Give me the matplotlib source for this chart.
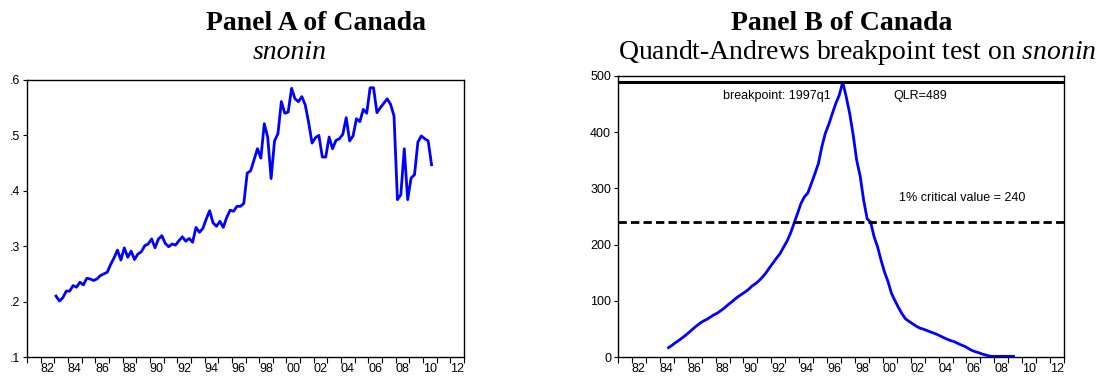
import numpy as np
import matplotlib
matplotlib.use("Agg")
import matplotlib.pyplot as plt
from matplotlib.ticker import FixedLocator, NullFormatter, FuncFormatter

plt.rcParams['font.family'] = ['Liberation Sans', 'DejaVu Sans']
plt.rcParams['mathtext.fontset'] = 'custom'
plt.rcParams['mathtext.rm'] = 'Liberation Serif'
plt.rcParams['mathtext.it'] = 'Liberation Serif:italic'

# snonin, quarterly 1983q1 - 2010q3
snonin_start = 1983
snonin = [0.210, 0.201, 0.207, 0.219, 0.219, 0.229, 0.226, 0.235,
          0.230, 0.242, 0.241, 0.238, 0.241, 0.247, 0.250, 0.253,
          0.267, 0.279, 0.293, 0.275, 0.297, 0.280, 0.291, 0.276,
          0.286, 0.290, 0.301, 0.304, 0.313, 0.297, 0.313, 0.319,
          0.305, 0.299, 0.304, 0.302, 0.310, 0.317, 0.309, 0.314,
          0.307, 0.334, 0.325, 0.332, 0.349, 0.364, 0.342, 0.336,
          0.345, 0.334, 0.352, 0.365, 0.363, 0.372, 0.372, 0.377,
          0.432, 0.436, 0.456, 0.476, 0.459, 0.521, 0.497, 0.422,
          0.490, 0.503, 0.561, 0.540, 0.542, 0.585, 0.566, 0.561,
          0.570, 0.555, 0.523, 0.486, 0.496, 0.500, 0.461, 0.461,
          0.497, 0.476, 0.491, 0.494, 0.502, 0.532, 0.490, 0.499,
          0.530, 0.525, 0.547, 0.540, 0.586, 0.586, 0.541, 0.550,
          0.558, 0.566, 0.556, 0.535, 0.384, 0.393, 0.476, 0.384,
          0.423, 0.429, 0.488, 0.499, 0.494, 0.490, 0.447]

# Quandt-Andrews LR statistic, quarterly 1984q3 - 2009q2
qa_start = 1984 + 2 / 4
qa_stat = [16.6, 20.8, 25.5, 29.7, 34.4, 39.2, 44.5, 49.9, 55.2, 60.0,
           64.0, 67.0, 71.0, 75.0, 78.0, 82.5, 87.0, 92.6, 97.4, 102.7,
           107.5, 111.6, 115.8, 120.5, 126.5, 130.6, 136.0, 142.5, 150.0, 159.0,
           167.5, 176.0, 184.0, 195.0, 206.0, 220.0, 237.5, 255.0, 273.0, 285.0,
           292.0, 309.0, 326.0, 344.0, 374.0, 398.0, 414.0, 433.0, 451.0, 466.0,
           489.0, 463.0, 433.0, 395.0, 350.0, 322.0, 279.0, 246.0, 240.0, 214.0,
           196.0, 172.0, 151.0, 134.0, 113.0, 100.0, 88.0, 77.0, 68.0, 63.5,
           59.4, 55.2, 51.7, 49.9, 47.5, 45.0, 42.8, 40.4, 37.4, 34.4,
           31.5, 29.1, 27.3, 24.3, 21.4, 19.0, 15.4, 11.9, 9.5, 7.7,
           5.3, 3.6, 1.8, 1.2, 1.2, 1.2, 1.2, 1.2, 1.2, 1.2]

qlr = 489
crit_1pct = 240
break_label = "1997q1"

year_labels = ["82", "84", "86", "88", "90", "92", "94", "96",
               "98", "00", "02", "04", "06", "08", "10", "12"]


def quarter_dates(start, n):
    # plot each quarter at its midpoint
    return start + np.arange(n) / 4 + 0.125


def style_axis(ax):
    ax.set_xlim(1981, 2013)
    ax.xaxis.set_major_locator(FixedLocator(np.arange(1981, 2014)))
    ax.xaxis.set_major_formatter(NullFormatter())
    ax.xaxis.set_minor_locator(FixedLocator(np.arange(1982, 2013, 2) + 0.5))
    ax.set_xticklabels(year_labels, minor=True)
    ax.tick_params(axis='x', which='major', direction='out', length=4, width=0.8)
    ax.tick_params(axis='x', which='minor', length=0, pad=4, labelsize=9)
    ax.tick_params(axis='y', direction='out', length=3, width=0.8, labelsize=9, pad=2)
    for s in ax.spines.values():
        s.set_linewidth(1.0)


fig = plt.figure(figsize=(10.99, 3.78), dpi=100)

# Panel A
axA = fig.add_axes([27 / 1099, 1 - 357 / 378, 437 / 1099, 277 / 378])
axA.plot(quarter_dates(snonin_start, len(snonin)), snonin, color='#0000ff', lw=2.0)
axA.set_ylim(0.1, 0.6)
axA.set_yticks([0.1, 0.2, 0.3, 0.4, 0.5, 0.6])
axA.yaxis.set_major_formatter(FuncFormatter(lambda v, p: ("%.1f" % v)[1:]))
style_axis(axA)

# Panel B
axB = fig.add_axes([618 / 1099, 1 - 357 / 378, 446 / 1099, 281 / 378])
axB.plot(quarter_dates(qa_start, len(qa_stat)), qa_stat, color='#0000ff', lw=2.0)
axB.axhline(qlr, color='black', lw=2.2)
axB.axhline(crit_1pct, color='black', lw=2.0, ls=(0, (3, 1.5)))
axB.set_ylim(0, 500)
axB.set_yticks([0, 100, 200, 300, 400, 500])
style_axis(axB)
axB.text(1992.4, 464, "breakpoint: " + break_label, ha='center', va='center', fontsize=9)
axB.text(2002.7, 464, "QLR=%d" % qlr, ha='center', va='center', fontsize=9)
axB.text(2005.7, 283, "1%% critical value = %d" % crit_1pct, ha='center', va='center', fontsize=9)

# titles
serif = ['Liberation Serif', 'DejaVu Serif']
fig.text(316 / 1099, 1 - 30 / 378, "Panel A of Canada", ha='center', va='baseline',
         family=serif, weight='bold', fontsize=20)
fig.text(290 / 1099, 1 - 59 / 378, "snonin", ha='center', va='baseline',
         family=serif, style='italic', fontsize=20)
fig.text(842 / 1099, 1 - 30 / 378, "Panel B of Canada", ha='center', va='baseline',
         family=serif, weight='bold', fontsize=20)
fig.text(857 / 1099, 1 - 59 / 378, r"Quandt-Andrews breakpoint test on $\mathit{snonin}$",
         ha='center', va='baseline', family=serif, fontsize=20)

fig.savefig("out.png", dpi=100)
